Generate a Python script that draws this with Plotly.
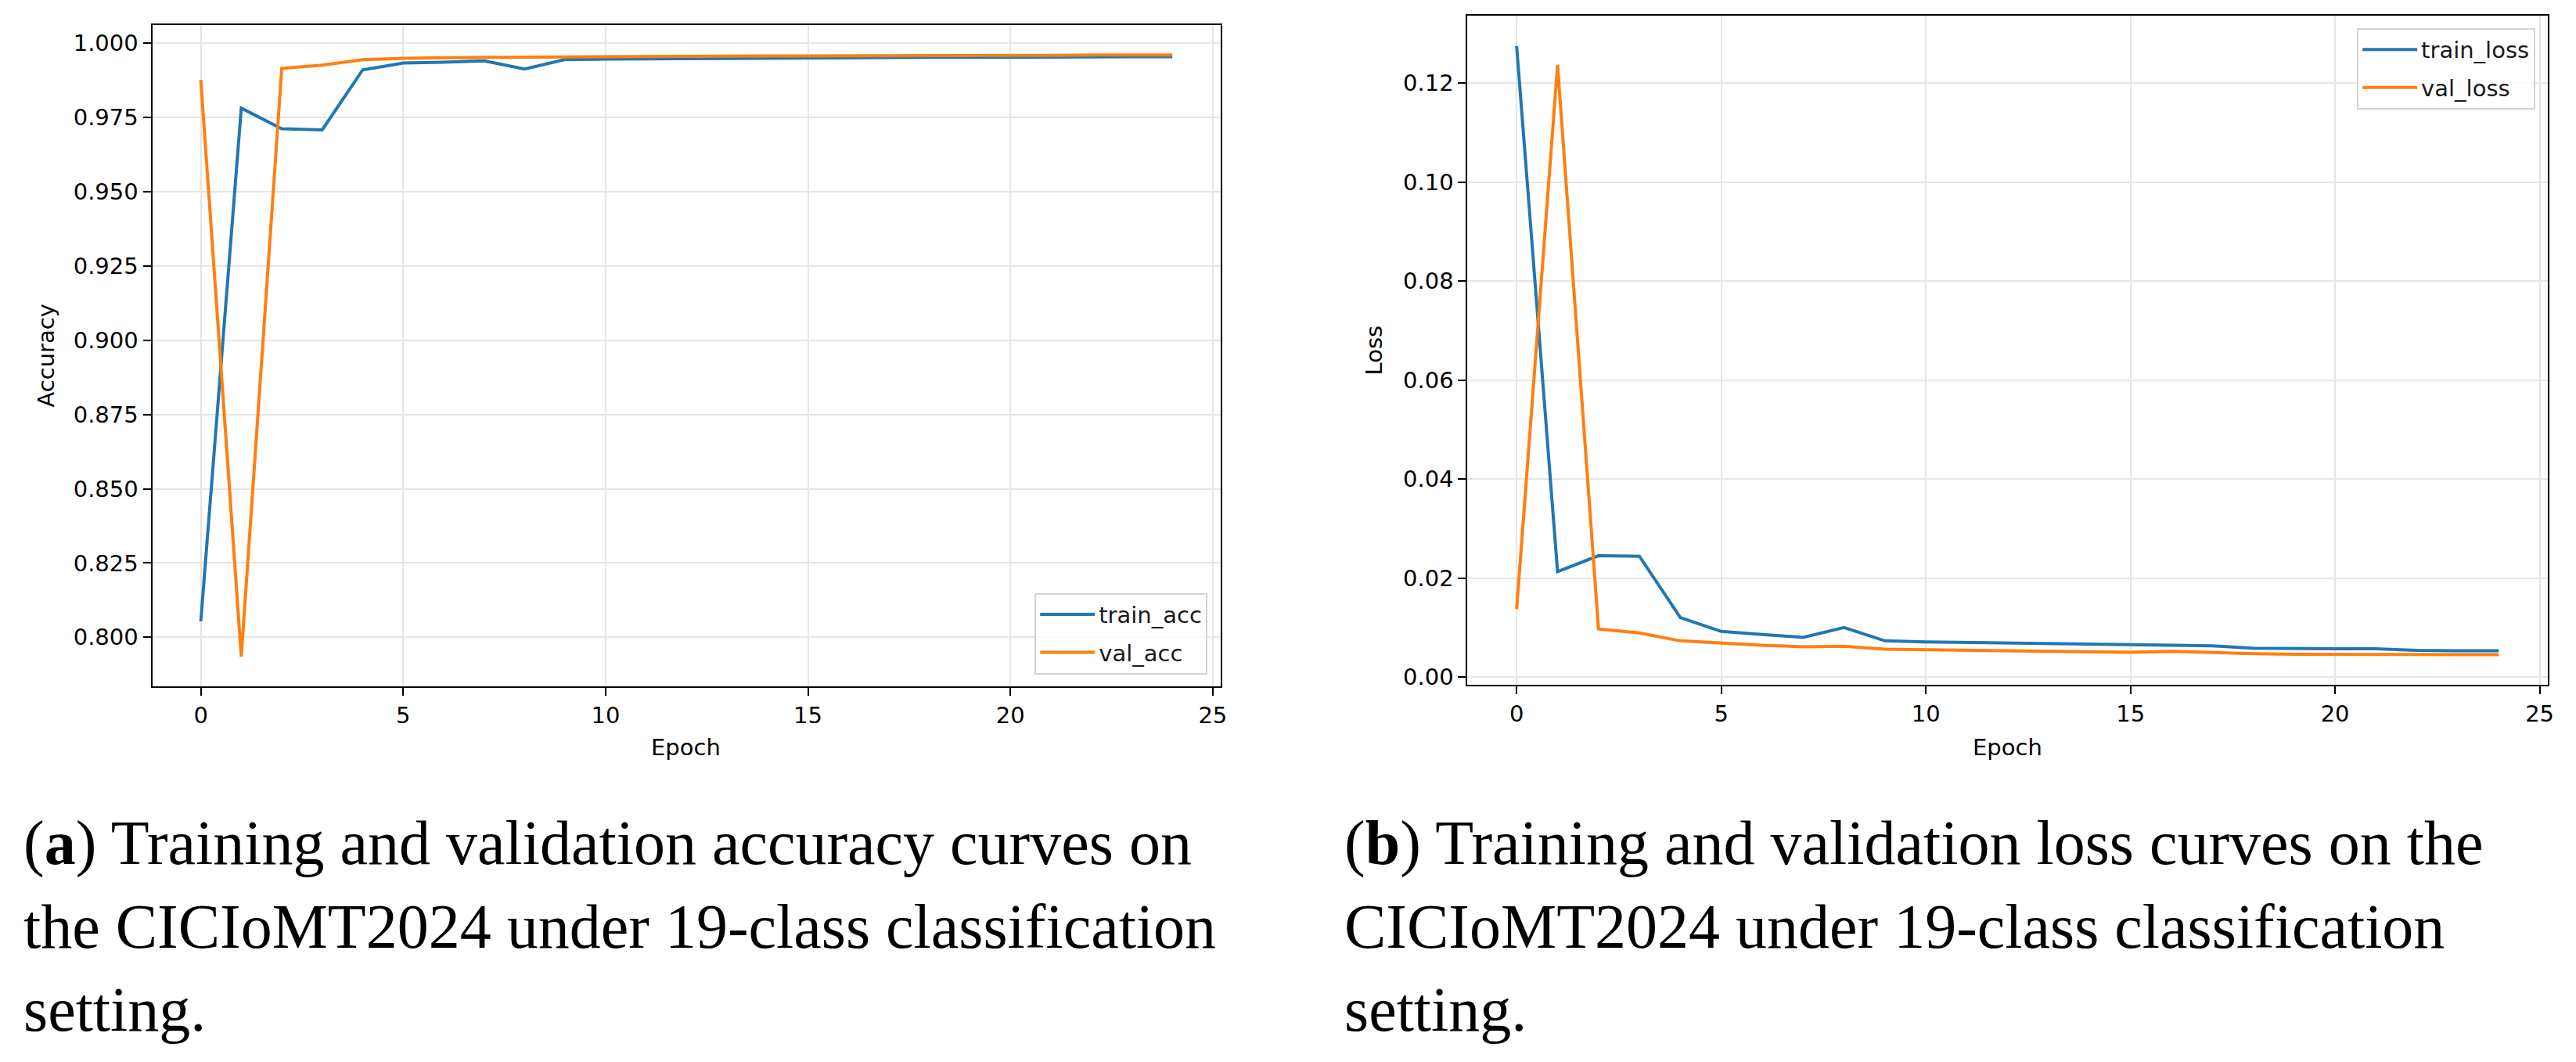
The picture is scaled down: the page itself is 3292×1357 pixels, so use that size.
import plotly.graph_objects as go

# ---------------- data ----------------
epochs = list(range(25))
train_acc = [0.8054, 0.9781, 0.9712, 0.9708, 0.9910, 0.9933, 0.9936, 0.9940, 0.9913, 0.9945,
             0.9946, 0.9947, 0.9948, 0.9948, 0.9949, 0.9950, 0.9950, 0.9951, 0.9952, 0.9952,
             0.9953, 0.9953, 0.9954, 0.9954, 0.9954]
val_acc = [0.9876, 0.7935, 0.9915, 0.9926, 0.9944, 0.9949, 0.9951, 0.9952, 0.9953, 0.9954,
           0.9955, 0.9955, 0.9956, 0.9956, 0.9957, 0.9957, 0.9957, 0.9958, 0.9958, 0.9959,
           0.9959, 0.9959, 0.9960, 0.9960, 0.9960]
train_loss = [0.1275, 0.0213, 0.0245, 0.0244, 0.0120, 0.0092, 0.0086, 0.0080, 0.0100, 0.0073,
              0.0071, 0.0070, 0.0068, 0.0067, 0.0066, 0.0065, 0.0064, 0.0063, 0.0058, 0.0057,
              0.0057, 0.0057, 0.0054, 0.0053, 0.0053]
val_loss = [0.0137, 0.1237, 0.0097, 0.0089, 0.0073, 0.0068, 0.0064, 0.0061, 0.0062, 0.0056,
            0.0055, 0.0055, 0.0054, 0.0053, 0.0052, 0.0050, 0.0052, 0.0049, 0.0047, 0.0046,
            0.0046, 0.0046, 0.0045, 0.0045, 0.0045]

epoch_ticks = [0, 5, 10, 15, 20, 25]
acc_ticks = [0.800, 0.825, 0.850, 0.875, 0.900, 0.925, 0.950, 0.975, 1.000]
loss_ticks = [0.00, 0.02, 0.04, 0.06, 0.08, 0.10, 0.12]

caption_a = ["(<b>a</b>) Training and validation accuracy curves on",
             "the CICIoMT2024 under 19-class classification",
             "setting."]
caption_b = ["(<b>b</b>) Training and validation loss curves on the",
             "CICIoMT2024 under 19-class classification",
             "setting."]

# ---------------- layout constants ----------------
W, H = 3292, 1357
BLUE = '#1f77b4'
ORANGE = '#ff7f0e'
SANS = 'DejaVu Sans'
SERIF = 'Liberation Serif'
FS = 29


def px(x):
    return x / W


def py(y):
    return 1 - y / H


def auto_range(*series, margin=0.05):
    lo = min(min(s) for s in series)
    hi = max(max(s) for s in series)
    d = (hi - lo) * margin
    return [lo - d, hi + d]


fig = go.Figure()
fig.add_trace(go.Scatter(x=epochs, y=train_acc, name='train_acc', mode='lines', legendgroup='ta',
                         line=dict(color=BLUE, width=4), xaxis='x', yaxis='y', legend='legend'))
fig.add_trace(go.Scatter(x=epochs, y=val_acc, name='val_acc', mode='lines', legendgroup='va',
                         line=dict(color=ORANGE, width=4), xaxis='x', yaxis='y', legend='legend'))
fig.add_trace(go.Scatter(x=epochs, y=train_loss, name='train_loss', mode='lines', legendgroup='tl',
                         line=dict(color=BLUE, width=4), xaxis='x2', yaxis='y2', legend='legend2'))
fig.add_trace(go.Scatter(x=epochs, y=val_loss, name='val_loss', mode='lines', legendgroup='vl',
                         line=dict(color=ORANGE, width=4), xaxis='x2', yaxis='y2', legend='legend2'))

xr = auto_range(epochs)
common = dict(ticks='outside', ticklen=10, tickwidth=2, tickcolor='black',
              showline=True, linecolor='black', linewidth=2, mirror=True,
              showgrid=True, gridcolor='#e5e5e5', gridwidth=2, zeroline=False,
              tickfont=dict(family=SANS, size=FS, color='black'))

legend_common = dict(bgcolor='rgba(255,255,255,0.85)', bordercolor='#d3d3d3', borderwidth=2,
                     font=dict(family=SANS, size=FS, color='#1a1a1a'), tracegroupgap=8,
                     itemwidth=70)

lab = dict(xref='paper', yref='paper', showarrow=False, xanchor='center', yanchor='middle',
           font=dict(family=SANS, size=FS, color='black'))
annotations = [
    dict(text='Accuracy', x=px(59), y=py(457), textangle=-90, **lab),
    dict(text='Epoch', x=px(879), y=py(960), **lab),
    dict(text='Loss', x=px(1760), y=py(450), textangle=-90, **lab),
    dict(text='Epoch', x=px(2572), y=py(960), **lab),
]
cap = dict(xref='paper', yref='paper', showarrow=False, xanchor='left', yanchor='middle',
           font=dict(family=SERIF, size=80, color='black'))
for i, line in enumerate(caption_a):
    annotations.append(dict(text=line, x=px(28), y=py(1083 + 107 * i), **cap))
for i, line in enumerate(caption_b):
    annotations.append(dict(text=line, x=px(1720), y=py(1083 + 107 * i), **cap))

fig.update_layout(
    width=W, height=H, autosize=False,
    margin=dict(l=0, r=0, t=0, b=0),
    paper_bgcolor='white', plot_bgcolor='white',
    xaxis=dict(domain=[px(195), px(1564)], range=xr, tickvals=epoch_ticks, anchor='y', **common),
    yaxis=dict(domain=[py(882), py(32)], range=auto_range(train_acc, val_acc), tickvals=acc_ticks,
               tickformat='.3f', anchor='x', **common),
    xaxis2=dict(domain=[px(1880), px(3264)], range=xr, tickvals=epoch_ticks, anchor='y2', **common),
    yaxis2=dict(domain=[py(880), py(20)], range=auto_range(train_loss, val_loss), tickvals=loss_ticks,
                tickformat='.2f', anchor='x2', **common),
    legend=dict(x=px(1547), y=py(866), xanchor='right', yanchor='bottom', **legend_common),
    legend2=dict(x=px(3248), y=py(36), xanchor='right', yanchor='top', **legend_common),
    annotations=annotations,
    showlegend=True,
)

fig.write_html("out.html")
